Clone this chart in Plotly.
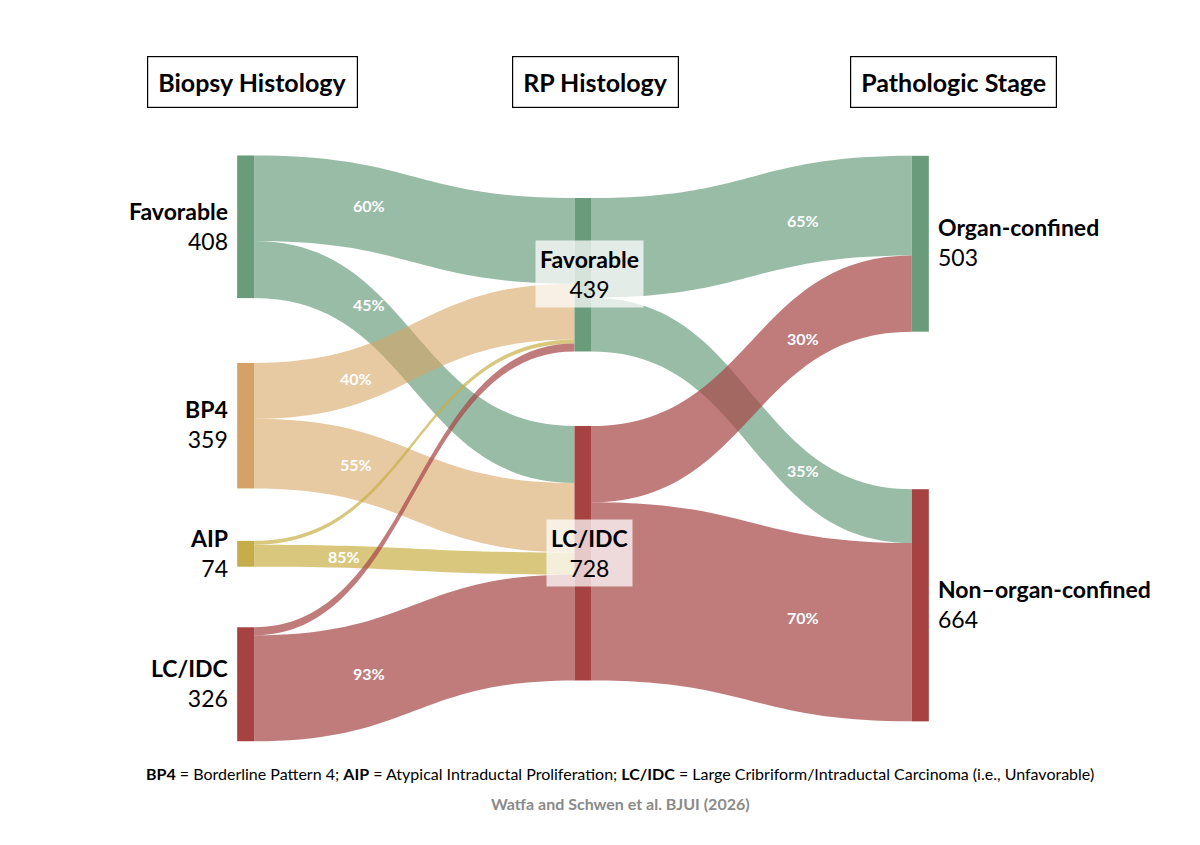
import plotly.graph_objects as go

# nodes: biopsy (0-3), RP (4-5), stage (6-7)
node_names = ["Favorable", "BP4", "AIP", "LC/IDC", "Favorable", "LC/IDC", "Organ-confined", "Non\u2013organ-confined"]
node_totals = [408, 359, 74, 326, 439, 728, 503, 664]
node_colors = ["#6a9c7c", "#d4a266", "#c6ad4c", "#a64242", "#6a9c7c", "#a64242", "#6a9c7c", "#a64242"]
node_x = [0.001, 0.001, 0.001, 0.001, 0.5, 0.5, 0.999, 0.999]
node_y = [0.121, 0.461, 0.680, 0.903, 0.203, 0.679, 0.150, 0.768]

link_source = [0, 0, 1, 1, 2, 2, 3, 3, 4, 4, 5, 5]
link_target = [4, 5, 4, 5, 4, 5, 4, 5, 6, 7, 6, 7]
link_value = [245, 163, 160, 199, 11, 63, 23, 303, 285, 154, 218, 510]
link_colors = [
    "rgba(110,160,130,0.7)", "rgba(110,160,130,0.7)",
    "rgba(215,165,100,0.6)", "rgba(215,165,100,0.6)",
    "rgba(200,175,70,0.7)", "rgba(200,175,70,0.7)",
    "rgba(168,72,72,0.72)", "rgba(168,72,72,0.72)",
    "rgba(110,160,130,0.7)", "rgba(110,160,130,0.7)",
    "rgba(168,72,72,0.72)", "rgba(168,72,72,0.72)",
]

pct_labels = ["60%", "45%", "40%", "55%", "85%", "93%", "65%", "30%", "35%", "70%"]
pct_pos = [(361, 206), (361, 304), (348, 378), (348, 464), (336, 556), (361, 673),
           (795, 220), (795, 338), (795, 470), (795, 617)]

headers = ["Biopsy Histology", "RP Histology", "Pathologic Stage"]
header_x = [244, 587, 945]

FONT = "Lato"
W, H = 1200, 845
DY = 8  # annotation vertical correction


def py(y):
    return 1 - (y - DY) / H


fig = go.Figure(go.Sankey(
    arrangement="fixed",
    domain=dict(x=[237 / W, 913 / W], y=[1 - 733 / H, 1 - 148 / H]),
    node=dict(label=[""] * len(node_names), color=node_colors, x=node_x, y=node_y,
              pad=59, thickness=17, line=dict(width=0), hoverinfo="skip"),
    link=dict(source=link_source, target=link_target, value=link_value,
              color=link_colors, hoverinfo="skip"),
))

ann = []
for t, x in zip(headers, header_x):
    ann.append(dict(x=x / W, y=py(82), text=f"<b>{t}</b>", showarrow=False,
                    xanchor="center", yanchor="middle",
                    font=dict(family=FONT, size=25, color="black"),
                    bordercolor="black", borderwidth=1.2, borderpad=10, bgcolor="white"))

label_pos = [(222, 226, "right"), (222, 424, "right"), (222, 553, "right"), (222, 683, "right"),
             (581, 274, "center"), (581, 553, "center"), (928, 242, "left"), (928, 604, "left")]
for i, (x, y, al) in enumerate(label_pos):
    extra = {}
    if al == "center":
        extra = dict(bgcolor="rgba(255,255,255,0.72)", borderpad=4)
    ann.append(dict(x=x / W, y=py(y), xanchor=al, yanchor="middle", align=al, showarrow=False,
                    text=f"<b>{node_names[i]}</b><br>{node_totals[i]}",
                    font=dict(family=FONT, size=23, color="black"), **extra))

for t, (x, y) in zip(pct_labels, pct_pos):
    ann.append(dict(x=x / W, y=py(y), text=f"<b>{t}</b>", showarrow=False,
                    xanchor="center", yanchor="middle",
                    font=dict(family=FONT, size=16, color="white")))

ann.append(dict(x=612 / W, y=py(773), showarrow=False, xanchor="center", yanchor="middle",
                text="<b>BP4</b> = Borderline Pattern 4; <b>AIP</b> = Atypical Intraductal Proliferation; "
                     "<b>LC/IDC</b> = Large Cribriform/Intraductal Carcinoma (i.e., Unfavorable)",
                font=dict(family=FONT, size=16, color="black")))
ann.append(dict(x=612 / W, y=py(803), showarrow=False, xanchor="center", yanchor="middle",
                text="<b>Watfa and Schwen et al. BJUI (2026)</b>",
                font=dict(family=FONT, size=16, color="#8a8a8a")))

fig.update_layout(width=W, height=H, margin=dict(l=0, r=0, t=0, b=0),
                  paper_bgcolor="white", plot_bgcolor="white", annotations=ann,
                  font=dict(family=FONT))
fig.write_html("out.html")
